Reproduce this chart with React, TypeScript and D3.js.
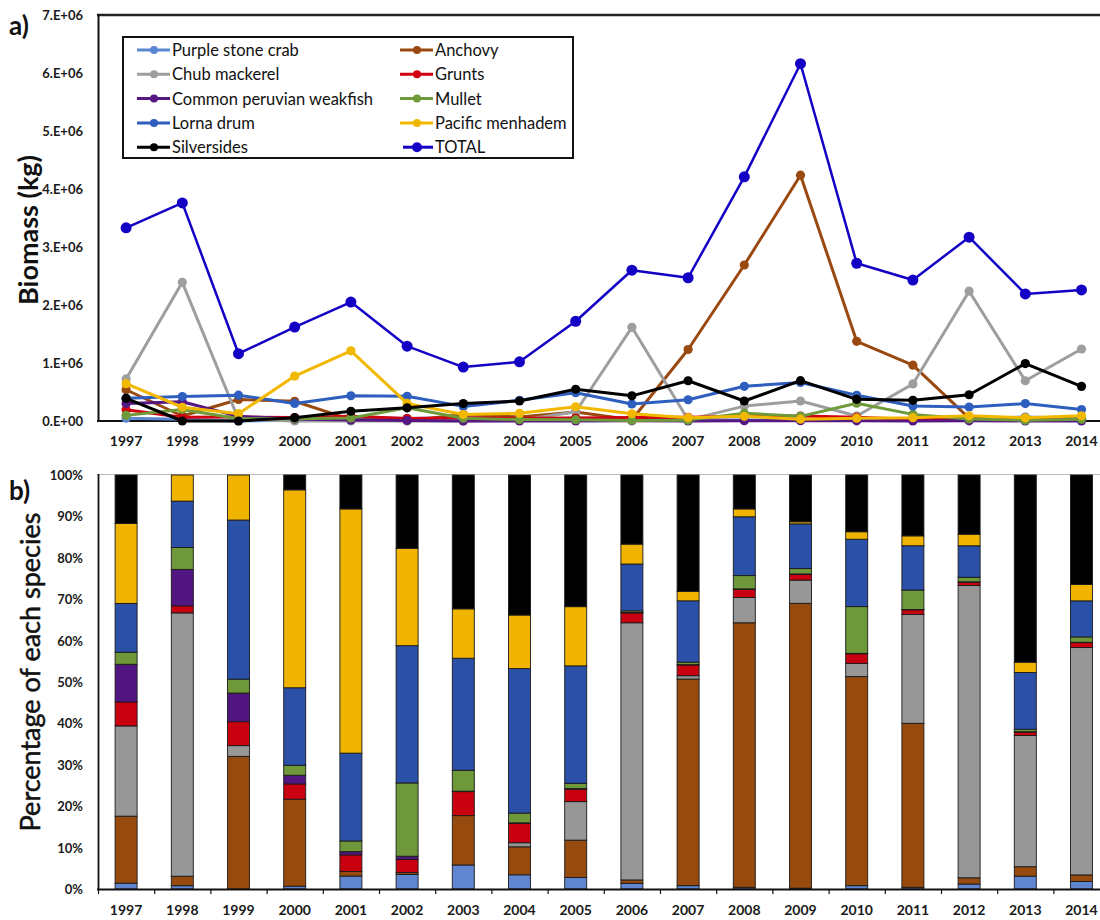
import React from "react";
import * as d3 from "d3";

// Survey years
const years = [
  "1997", "1998", "1999", "2000", "2001", "2002", "2003", "2004", "2005",
  "2006", "2007", "2008", "2009", "2010", "2011", "2012", "2013", "2014",
];

// Biomass per species (kg)
const purpleStoneCrab = [47000, 30000, 0, 11000, 64000, 45000, 54000, 35000, 48000, 36000, 20000, 17000, 12000, 22000, 10000, 38000, 68000, 41000];
const anchovy = [539000, 86000, 371000, 340000, 23000, 6000, 111000, 69000, 155000, 21000, 1233000, 2690000, 4238000, 1374000, 962000, 48000, 50000, 36000];
const chubMackerel = [726000, 2391000, 30000, 0, 0, 0, 0, 10000, 160000, 1615000, 20000, 257000, 345000, 87000, 639000, 2238000, 694000, 1241000];
const grunts = [193000, 64000, 67000, 60000, 82000, 41000, 54000, 48000, 52000, 62000, 64000, 84000, 86000, 63000, 27000, 25000, 18000, 27000];
const peruvianWeakfish = [303000, 331000, 80000, 34000, 16000, 10000, 1000, 1000, 2000, 3000, 2000, 4000, 6000, 3000, 2000, 3000, 2000, 2000];
const mullet = [97000, 199000, 39000, 39000, 53000, 228000, 47000, 24000, 22000, 10000, 15000, 135000, 80000, 307000, 114000, 35000, 13000, 29000];
const lornaDrum = [393000, 421000, 445000, 303000, 435000, 427000, 252000, 356000, 488000, 294000, 366000, 598000, 665000, 443000, 260000, 241000, 300000, 197000];
const pacificMenhadem = [643000, 237000, 126000, 774000, 1210000, 303000, 111000, 132000, 246000, 125000, 57000, 80000, 31000, 49000, 58000, 89000, 55000, 90000];
const silversides = [390000, 0, 0, 58000, 168000, 228000, 301000, 345000, 547000, 434000, 694000, 345000, 696000, 373000, 357000, 453000, 990000, 597000];
const total = [3330000, 3760000, 1160000, 1620000, 2050000, 1290000, 930000, 1020000, 1720000, 2600000, 2470000, 4210000, 6160000, 2720000, 2430000, 3170000, 2190000, 2260000];

// Axis ticks
const biomassTicks = [0, 1e6, 2e6, 3e6, 4e6, 5e6, 6e6, 7e6];
const percentTicks = [0, 0.1, 0.2, 0.3, 0.4, 0.5, 0.6, 0.7, 0.8, 0.9, 1];

type Series = { key: string; name: string; values: number[]; color: string; bar: string };

// Stack order, bottom to top (same as series order)
const speciesSeries: Series[] = [
  { key: "psc", name: "Purple stone crab", values: purpleStoneCrab, color: "#5B87D2", bar: "#5F86CE" },
  { key: "anc", name: "Anchovy", values: anchovy, color: "#9A4A10", bar: "#974A0E" },
  { key: "chub", name: "Chub mackerel", values: chubMackerel, color: "#9E9E9E", bar: "#979797" },
  { key: "gru", name: "Grunts", values: grunts, color: "#D00010", bar: "#C8000F" },
  { key: "wkf", name: "Common peruvian weakfish", values: peruvianWeakfish, color: "#561783", bar: "#521680" },
  { key: "mul", name: "Mullet", values: mullet, color: "#6F9A3A", bar: "#6E983A" },
  { key: "lor", name: "Lorna drum", values: lornaDrum, color: "#2F5FBE", bar: "#2A50A8" },
  { key: "men", name: "Pacific menhadem", values: pacificMenhadem, color: "#F2B800", bar: "#F0B400" },
  { key: "sil", name: "Silversides", values: silversides, color: "#000000", bar: "#000000" },
];
const totalSeries = { name: "TOTAL", values: total, color: "#1300C4" };

const W = 1100;
const H = 920;
const FONT = "Lato, 'Open Sans', sans-serif";

export default function App() {
  const x = d3.scaleBand<string>().domain(years).range([98, 98 + 18 * 56.2]).paddingInner(0).paddingOuter(0);
  const cx = (yr: string) => (x(yr) as number) + x.bandwidth() / 2;

  // Panel a
  const yA = d3.scaleLinear().domain([0, 7e6]).range([421, 15]);
  const fmtSci = (v: number) => (v === 0 ? "0.E+00" : `${Math.round(v / 1e6)}.E+06`);
  const line = d3
    .line<[string, number]>()
    .x((d) => cx(d[0]))
    .y((d) => yA(d[1]));

  // Panel b
  const yB = d3.scaleLinear().domain([0, 1]).range([889, 475]);
  const fmtPct = d3.format(".0%");
  const rows = years.map((yr, i) => {
    const r: Record<string, any> = { year: yr };
    speciesSeries.forEach((s) => (r[s.key] = s.values[i]));
    return r;
  });
  const stacked = d3
    .stack<Record<string, any>>()
    .keys(speciesSeries.map((s) => s.key))
    .offset(d3.stackOffsetExpand)(rows);
  const barW = 22;

  // Legend entries, filled row by row in two columns
  const legendItems = [...speciesSeries.map((s) => ({ name: s.name, color: s.color })), { name: totalSeries.name, color: totalSeries.color }];
  const legendX = [137, 400];
  const legendY0 = 50;
  const legendDy = 24.3;

  return (
    <svg width={W} height={H} style={{ position: "absolute", left: 0, top: 0, background: "#fff" }} fontFamily={FONT}>
      {/* ---------- Panel a: biomass lines ---------- */}
      <text x={9} y={35} fontSize={26} fontWeight={700} fill="#111">a)</text>
      <text transform={`translate(38,230) rotate(-90)`} textAnchor="middle" fontSize={27} fontWeight={700} fill="#111">
        Biomass (kg)
      </text>
      {biomassTicks.map((t) => (
        <text key={t} x={83} y={yA(t) + 5} textAnchor="end" fontSize={13} fontWeight={700} fill="#1a1a1a">
          {fmtSci(t)}
        </text>
      ))}
      {years.map((yr) => (
        <text key={yr} x={cx(yr)} y={446} textAnchor="middle" fontSize={14} fontWeight={700} fill="#1a1a1a">
          {yr}
        </text>
      ))}
      <line x1={97} x2={W} y1={15} y2={15} stroke="#222" strokeWidth={2.5} />
      <line x1={98.5} x2={98.5} y1={14} y2={422} stroke="#111" strokeWidth={2} />
      <line x1={97} x2={W} y1={421} y2={421} stroke="#111" strokeWidth={1.8} />

      {speciesSeries.map((s) => {
        const pts = years.map((yr, i) => [yr, s.values[i]] as [string, number]);
        return (
          <g key={s.key}>
            <path d={line(pts) || ""} fill="none" stroke={s.color} strokeWidth={3} strokeLinejoin="round" />
            {pts.map((p) => (
              <circle key={p[0]} cx={cx(p[0])} cy={yA(p[1])} r={4.6} fill={s.color} />
            ))}
          </g>
        );
      })}
      {(() => {
        const pts = years.map((yr, i) => [yr, totalSeries.values[i]] as [string, number]);
        return (
          <g>
            <path d={line(pts) || ""} fill="none" stroke={totalSeries.color} strokeWidth={2.5} strokeLinejoin="round" />
            {pts.map((p) => (
              <circle key={p[0]} cx={cx(p[0])} cy={yA(p[1])} r={5.5} fill={totalSeries.color} />
            ))}
          </g>
        );
      })()}

      {/* legend */}
      <rect x={123} y={37} width={450} height={121} fill="#fff" stroke="#111" strokeWidth={2} />
      {legendItems.map((it, i) => {
        const col = i % 2;
        const row = Math.floor(i / 2);
        const lx = legendX[col];
        const ly = legendY0 + row * legendDy;
        const isTotal = it.name === "TOTAL";
        return (
          <g key={it.name}>
            <line x1={lx + (isTotal ? 3 : 0)} x2={lx + 33} y1={ly} y2={ly} stroke={it.color} strokeWidth={3} />
            <circle cx={lx + 17} cy={ly} r={isTotal ? 5 : 4} fill={it.color} />
            <text x={lx + 35} y={ly + 6} fontSize={16.5} fill="#111">
              {it.name}
            </text>
          </g>
        );
      })}

      {/* ---------- Panel b: percentage stacked bars ---------- */}
      <text x={9} y={500} fontSize={26} fontWeight={700} fill="#111">b)</text>
      <text
        transform={`translate(40,672) rotate(-90)`}
        textAnchor="middle"
        fontSize={27}
        fontWeight={400}
        fill="#111"
        stroke="#111"
        strokeWidth={0.5}
      >
        Percentage of each species
      </text>
      {percentTicks.map((t) => (
        <text key={t} x={83} y={yB(t) + 5} textAnchor="end" fontSize={13} fontWeight={700} fill="#1a1a1a">
          {fmtPct(t)}
        </text>
      ))}
      {years.map((yr) => (
        <text key={yr} x={cx(yr)} y={915} textAnchor="middle" fontSize={14} fontWeight={700} fill="#1a1a1a">
          {yr}
        </text>
      ))}
      <line x1={97} x2={W} y1={474.5} y2={474.5} stroke="#bbb" strokeWidth={1.2} />

      {stacked.map((layer, li) => (
        <g key={layer.key} fill={speciesSeries[li].bar}>
          {layer.map((d, i) => {
            const h = yB(d[0]) - yB(d[1]);
            if (h <= 0.05) return null;
            return (
              <rect
                key={years[i]}
                x={cx(years[i]) - barW / 2}
                y={yB(d[1])}
                width={barW}
                height={h}
                stroke="#1a1a1a"
                strokeWidth={0.9}
              />
            );
          })}
        </g>
      ))}

      <line x1={98.5} x2={98.5} y1={474} y2={890} stroke="#111" strokeWidth={1.8} />
      <line x1={97} x2={W} y1={889.5} y2={889.5} stroke="#111" strokeWidth={1.8} />
      {years.map((yr) => (
        <line key={yr} x1={(x(yr) as number) + 0.5} x2={(x(yr) as number) + 0.5} y1={889} y2={894} stroke="#111" strokeWidth={1.2} />
      ))}
    </svg>
  );
}
